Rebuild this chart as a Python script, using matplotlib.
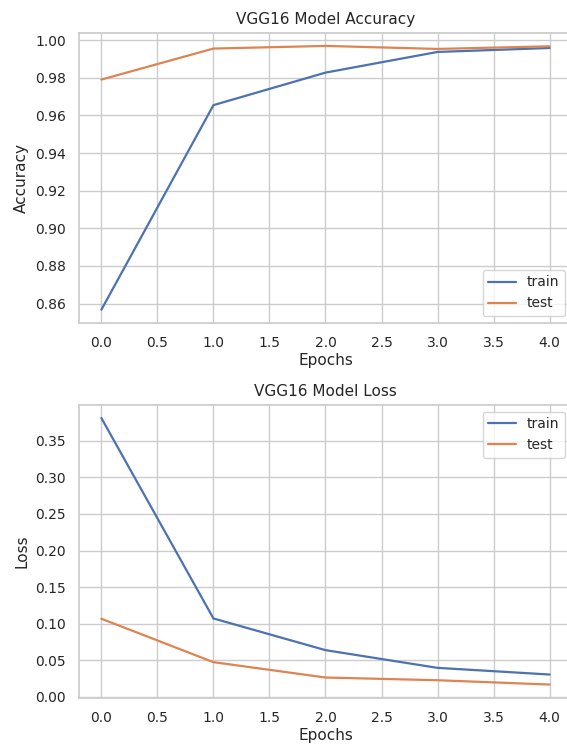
import matplotlib
matplotlib.use("Agg")
import matplotlib.pyplot as plt
import seaborn as sns

# values
epochs = [0, 1, 2, 3, 4]
train_acc = [0.8567, 0.9655, 0.9828, 0.9938, 0.9959]
test_acc = [0.9791, 0.9956, 0.9970, 0.9954, 0.9968]
train_loss = [0.381, 0.1072, 0.0639, 0.0397, 0.0306]
test_loss = [0.1068, 0.0475, 0.0265, 0.0228, 0.0169]

sns.set_theme(style="whitegrid")
plt.rcParams["font.family"] = ["DejaVu Sans"]

fig = plt.figure(figsize=(5.67, 7.44), dpi=100)
# the right edge of both axes runs past the figure, as in the reference crop
ax1 = fig.add_axes([0.1393, 0.566, 0.8695, 0.39])
ax2 = fig.add_axes([0.1393, 0.062, 0.8695, 0.394])


def draw_history(ax, train, test, title, ylabel, legend_loc):
    ax.plot(epochs, train, label="train", lw=1.6)
    ax.plot(epochs, test, label="test", lw=1.6)
    ax.set_title(title, fontsize=11)
    ax.set_xlabel("Epochs", fontsize=11, labelpad=2)
    ax.set_ylabel(ylabel, fontsize=11)
    ax.tick_params(labelsize=10)
    ax.spines["right"].set_visible(False)
    ax.legend(loc=legend_loc, fontsize=10)


draw_history(ax1, train_acc, test_acc, "VGG16 Model Accuracy", "Accuracy", "lower right")
draw_history(ax2, train_loss, test_loss, "VGG16 Model Loss", "Loss", "upper right")

fig.savefig("out.png", dpi=100)
